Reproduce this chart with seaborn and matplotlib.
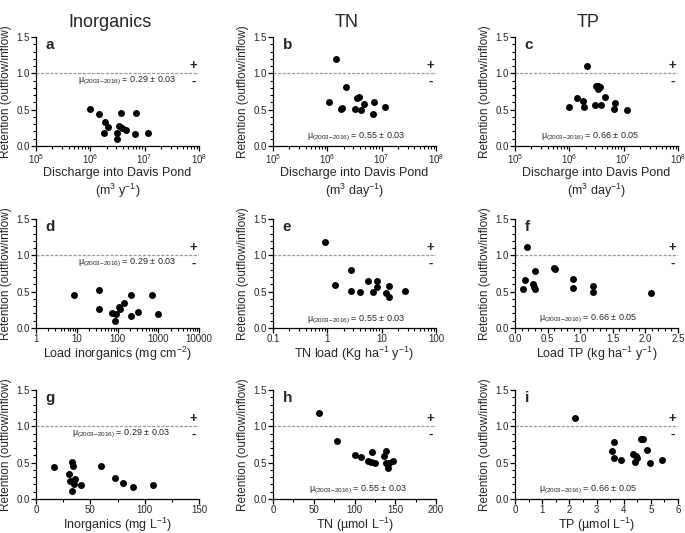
import numpy as np
import pandas as pd
import matplotlib
matplotlib.use('Agg')
import matplotlib.pyplot as plt
from matplotlib.ticker import AutoMinorLocator, LogLocator, NullFormatter
import seaborn as sns

# retention (outflow/inflow) vs drivers, 2003-2016

# a: discharge vs inorganics retention
a_x = [1.0e6, 1.42e6, 1.9e6, 1.77e6, 2.1e6, 3.66e6, 3.3e6, 3.87e6, 4.6e6, 3.1e6, 3.05e6, 6.9e6, 6.6e6, 1.15e7]
a_y = [0.51, 0.44, 0.33, 0.18, 0.26, 0.45, 0.275, 0.245, 0.22, 0.175, 0.09, 0.45, 0.16, 0.175]
# b: discharge vs TN retention
b_x = [1.46e6, 1.07e6, 2.2e6, 1.82e6, 1.9e6, 3.5e6, 3.9e6, 3.2e6, 4.1e6, 4.7e6, 7.1e6, 6.9e6, 1.15e7]
b_y = [1.2, 0.61, 0.81, 0.51, 0.52, 0.665, 0.67, 0.51, 0.50, 0.58, 0.60, 0.44, 0.535]
# c: discharge vs TP retention
c_x = [2.1e6, 1.0e6, 1.38e6, 1.76e6, 1.89e6, 3.05e6, 3.4e6, 3.3e6, 3.65e6, 3.0e6, 3.9e6, 4.6e6, 6.9e6, 6.7e6, 1.17e7]
c_y = [1.105, 0.54, 0.66, 0.62, 0.54, 0.83, 0.82, 0.79, 0.81, 0.57, 0.565, 0.68, 0.585, 0.51, 0.495]
# d: inorganics load
d_x = [8.8, 35, 35, 73, 91, 89, 107, 118, 141, 209, 209, 323, 690, 960]
d_y = [0.45, 0.52, 0.266, 0.20, 0.19, 0.10, 0.29, 0.257, 0.35, 0.45, 0.165, 0.225, 0.45, 0.19]
# e: TN load
e_x = [0.92, 1.38, 2.7, 2.7, 4.07, 5.5, 6.8, 8.2, 8.2, 12.2, 13.6, 13.6, 26.5]
e_y = [1.19, 0.59, 0.795, 0.51, 0.50, 0.64, 0.49, 0.65, 0.56, 0.48, 0.58, 0.42, 0.51]
# f: TP load
f_x = [0.18, 0.12, 0.15, 0.27, 0.30, 0.29, 0.30, 0.60, 0.61, 0.89, 0.89, 1.19, 1.19, 2.09]
f_y = [1.11, 0.535, 0.66, 0.61, 0.79, 0.57, 0.53, 0.825, 0.815, 0.675, 0.555, 0.58, 0.50, 0.485]
# g: inorganics concentration
g_x = [16.9, 32.8, 34, 30.4, 31, 35.6, 35, 41.4, 33, 59.8, 73, 80, 89, 108]
g_y = [0.445, 0.51, 0.45, 0.34, 0.25, 0.27, 0.20, 0.19, 0.105, 0.45, 0.285, 0.225, 0.17, 0.19]
# h: TN concentration
h_x = [57, 78.5, 100.4, 108, 117, 120.6, 122, 124.7, 136.4, 138.5, 139, 141.3, 142, 147.4]
h_y = [1.19, 0.80, 0.60, 0.575, 0.52, 0.51, 0.65, 0.50, 0.59, 0.66, 0.50, 0.43, 0.50, 0.52]
# i: TP concentration
i_x = [2.22, 3.64, 3.58, 3.64, 3.89, 4.35, 4.45, 4.5, 4.42, 4.62, 4.72, 4.87, 4.96, 5.42]
i_y = [1.11, 0.79, 0.66, 0.57, 0.54, 0.62, 0.585, 0.57, 0.51, 0.83, 0.82, 0.68, 0.49, 0.54]

col_titles = ['Inorganics', 'TN', 'TP']
mu_texts = ['0.29 ± 0.03', '0.55 ± 0.03', '0.66 ± 0.05']

xlabels = [
  'Discharge into Davis Pond\n(m$^3$ y$^{-1}$)',
  'Discharge into Davis Pond\n(m$^3$ day$^{-1}$)',
  'Discharge into Davis Pond\n(m$^3$ day$^{-1}$)',
  'Load inorganics (mg cm$^{-2}$)',
  'TN load (Kg ha$^{-1}$ y$^{-1}$)',
  'Load TP (kg ha$^{-1}$ y$^{-1}$)',
  'Inorganics (mg L$^{-1}$)',
  'TN (µmol L$^{-1}$)',
  'TP (µmol L$^{-1}$)',
]

sns.set_style('ticks')
plt.rcParams['font.family'] = ['Liberation Sans', 'DejaVu Sans']
plt.rcParams['mathtext.fontset'] = 'custom'
plt.rcParams['mathtext.rm'] = 'Liberation Sans'
plt.rcParams['mathtext.it'] = 'Liberation Sans:italic'
plt.rcParams['mathtext.bf'] = 'Liberation Sans:bold'

W, H = 685, 533
fig = plt.figure(figsize=(W / 100, H / 100), dpi=100)

lefts = [36, 273, 515]
tops = [37, 219, 390]
aw, ah = 163, 109

panels = [
  ('a', a_x, a_y), ('b', b_x, b_y), ('c', c_x, c_y),
  ('d', d_x, d_y), ('e', e_x, e_y), ('f', f_x, f_y),
  ('g', g_x, g_y), ('h', h_x, h_y), ('i', i_x, i_y),
]
# (log?, xlim, mu x-pos (axes frac), mu y (data))
layout = {
  'a': (True, (1e5, 1e8), 0.56, 0.90),
  'b': (True, (1e5, 1e8), 0.51, 0.13),
  'c': (True, (1e5, 1e8), 0.46, 0.13),
  'd': (True, (1, 1e4), 0.56, 0.90),
  'e': (True, (0.1, 100), 0.51, 0.11),
  'f': (False, (0, 2.5), 0.45, 0.12),
  'g': (False, (0, 150), 0.52, 0.90),
  'h': (False, (0, 200), 0.52, 0.12),
  'i': (False, (0, 6), 0.45, 0.12),
}

for k, (letter, xs, ys) in enumerate(panels):
  r, c = divmod(k, 3)
  ax = fig.add_axes([lefts[c] / W, 1 - (tops[r] + ah) / H, aw / W, ah / H])
  is_log, xlim, mu_x, mu_y = layout[letter]
  df = pd.DataFrame({'x': xs, 'y': ys})
  if is_log:
    ax.set_xscale('log')
  ax.axhline(1.0, color='#9a9a9a', lw=0.9, ls=(0, (2.5, 1.2)), zorder=1)
  sns.scatterplot(data=df, x='x', y='y', ax=ax, color='black', s=25,
                  edgecolor='black', linewidth=0, zorder=3)
  ax.set_xlim(*xlim)
  ax.set_ylim(0, 1.5)
  ax.set_yticks([0.0, 0.5, 1.0, 1.5])
  ax.set_yticklabels(['0.0', '0.5', '1.0', '1.5'])
  ax.yaxis.set_minor_locator(AutoMinorLocator(5))
  if is_log:
    ax.xaxis.set_minor_locator(LogLocator(base=10, subs=np.arange(2, 10), numticks=20))
    ax.xaxis.set_minor_formatter(NullFormatter())
  if letter == 'd':
    ax.set_xticks([1, 10, 100, 1000, 10000])
    ax.set_xticklabels(['1', '10', '100', '1000', '10000'])
  elif letter == 'e':
    ax.set_xticks([0.1, 1, 10, 100])
    ax.set_xticklabels(['0.1', '1', '10', '100'])
  elif letter == 'f':
    ax.set_xticks(np.arange(0, 2.51, 0.5))
    ax.set_xticklabels(['0.0', '0.5', '1.0', '1.5', '2.0', '2.5'])
    ax.xaxis.set_minor_locator(AutoMinorLocator(5))
  elif letter == 'g':
    ax.set_xticks([0, 50, 100, 150])
    ax.xaxis.set_minor_locator(AutoMinorLocator(2))
  elif letter == 'h':
    ax.set_xticks([0, 50, 100, 150, 200])
    ax.xaxis.set_minor_locator(AutoMinorLocator(2))
  elif letter == 'i':
    ax.set_xticks(range(0, 7))
    ax.xaxis.set_minor_locator(AutoMinorLocator(2))
  ax.tick_params(which='major', length=3.4, width=0.9, labelsize=7, pad=1.2,
                 color='black')
  ax.tick_params(which='minor', length=2.5, width=0.8, color='black')
  sns.despine(ax=ax)
  for sp in ['left', 'bottom']:
    ax.spines[sp].set_linewidth(0.9)
    ax.spines[sp].set_color('black')

  ax.set_xlabel(xlabels[k], fontsize=9, labelpad=0.5, linespacing=1.2)
  ax.set_ylabel('Retention (outflow/inflow)', fontsize=8.5, labelpad=3)

  ax.text(0.06, 0.93, letter, transform=ax.transAxes, fontsize=11,
          fontweight='bold', ha='left', va='center')
  ax.text(0.965, 1.1, '+', transform=ax.get_yaxis_transform(), fontsize=9.5,
          fontweight='bold', ha='center', va='center')
  ax.text(0.965, 0.89, '-', transform=ax.get_yaxis_transform(), fontsize=9.5,
          fontweight='bold', ha='center', va='center')
  ax.text(mu_x, mu_y, r'μ$_{(2003\mathrm{-}2016)}$ = ' + mu_texts[c],
          transform=ax.get_yaxis_transform(), fontsize=6.5,
          ha='center', va='center')

  if r == 0:
    fig.text((lefts[c] + aw / 2 - 8) / W, 1 - 22 / H, col_titles[c],
             fontsize=13, ha='center', va='center')

fig.savefig('out.png', dpi=100)
